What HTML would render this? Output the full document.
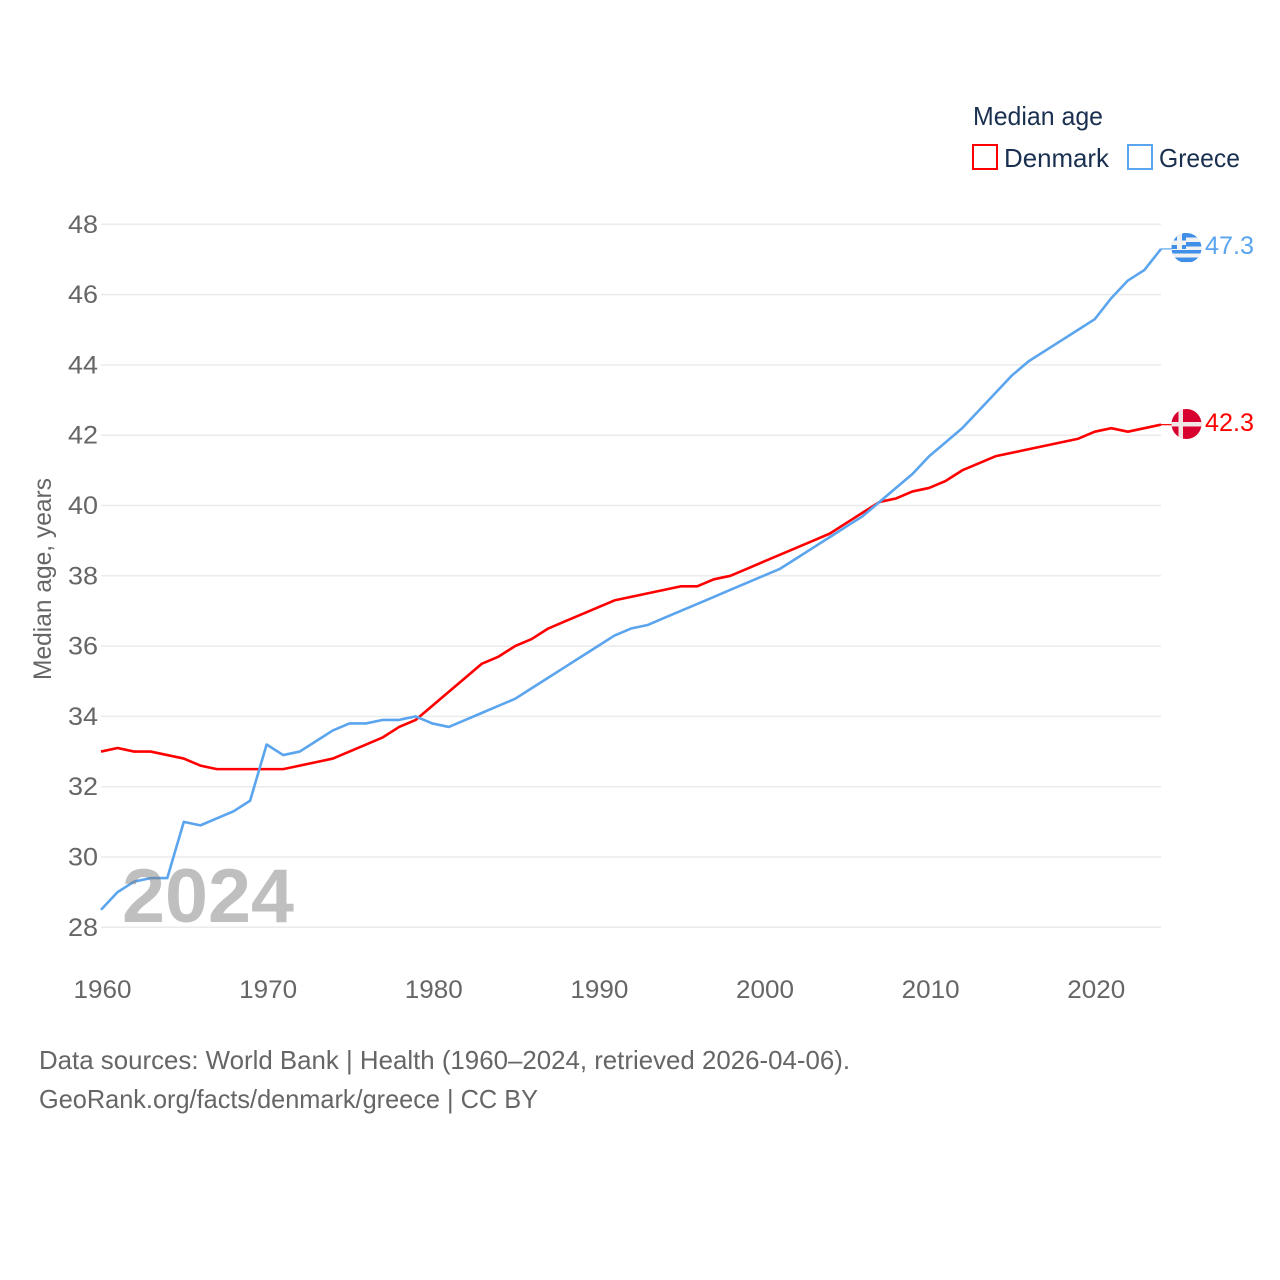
<!DOCTYPE html>
<html lang="en">
<head>
<meta charset="utf-8">
<title>Median age: Denmark vs Greece</title>
<style>
  html, body { margin: 0; padding: 0; background: #fff; }
  svg { display: block; font-family: "Liberation Sans", sans-serif; }
</style>
</head>
<body>
<svg id="chart" xmlns="http://www.w3.org/2000/svg" width="1280" height="1280" viewBox="0 0 1280 1280">
  <defs>
    <clipPath id="clip-gr"><circle cx="1186.5" cy="248" r="15"/></clipPath>
    <clipPath id="clip-dk"><circle cx="1186.5" cy="424" r="15"/></clipPath>
  </defs>
  <rect x="0" y="0" width="1280" height="1280" fill="#ffffff"/>
  <g id="grid"></g>
  <g id="y-labels"></g>
  <g id="x-labels"></g>
  <g id="lines"></g>

  <text x="122" y="922" font-size="76" font-weight="bold" fill="#7f7f7f" fill-opacity="0.5" textLength="172" lengthAdjust="spacingAndGlyphs">2024</text>

  <text transform="translate(51,680) rotate(-90)" font-size="25" fill="#666666" textLength="202" lengthAdjust="spacingAndGlyphs">Median age, years</text>

  <g>
    <text x="973" y="125" font-size="26" fill="#1a3050" textLength="130" lengthAdjust="spacingAndGlyphs">Median age</text>
    <rect x="973" y="145" width="24" height="24" fill="#ffffff" stroke="#ff0000" stroke-width="2"/>
    <text x="1004" y="167" font-size="26" fill="#1a3050" textLength="105" lengthAdjust="spacingAndGlyphs">Denmark</text>
    <rect x="1128" y="145" width="24" height="24" fill="#ffffff" stroke="#5ba4ee" stroke-width="2"/>
    <text x="1159" y="167" font-size="26" fill="#1a3050" textLength="81" lengthAdjust="spacingAndGlyphs">Greece</text>
  </g>

  <g clip-path="url(#clip-gr)">
    <rect x="1170" y="231" width="34" height="35" fill="#f1f1f1"/>
    <rect x="1170" y="233" width="34" height="4.5" fill="#3f8fe8"/>
    <rect x="1170" y="242" width="34" height="4.5" fill="#3f8fe8"/>
    <rect x="1170" y="250" width="34" height="3.5" fill="#3f8fe8"/>
    <rect x="1170" y="257.5" width="34" height="4.5" fill="#3f8fe8"/>
    <rect x="1170" y="231" width="16" height="18" fill="#3f8fe8"/>
    <rect x="1177" y="231" width="5" height="18" fill="#f1f1f1"/>
    <rect x="1170" y="240.5" width="16" height="4.5" fill="#f1f1f1"/>
  </g>
  <g clip-path="url(#clip-dk)">
    <rect x="1170" y="407" width="34" height="34" fill="#d7002f"/>
    <rect x="1178.5" y="407" width="4.5" height="34" fill="#f1e6e6"/>
    <rect x="1170" y="422" width="34" height="4.5" fill="#f1e6e6"/>
  </g>

  <text id="label-greece" x="1205" y="254" font-size="25" fill="#5ba4ee" textLength="49" lengthAdjust="spacingAndGlyphs"></text>
  <text id="label-denmark" x="1205" y="431" font-size="25" fill="#ff0000" textLength="49" lengthAdjust="spacingAndGlyphs"></text>

  <text x="39" y="1069" font-size="26" fill="#666666" textLength="811" lengthAdjust="spacingAndGlyphs">Data sources: World Bank | Health (1960–2024, retrieved 2026-04-06).</text>
  <text x="39" y="1108" font-size="26" fill="#666666" textLength="499" lengthAdjust="spacingAndGlyphs">GeoRank.org/facts/denmark/greece | CC BY</text>
</svg>
<script>
const startYear = 1960;
const denmarkValues = [33.0,33.1,33.0,33.0,32.9,32.8,32.6,32.5,32.5,32.5,32.5,32.5,32.6,32.7,32.8,33.0,33.2,33.4,33.7,33.9,34.3,34.7,35.1,35.5,35.7,36.0,36.2,36.5,36.7,36.9,37.1,37.3,37.4,37.5,37.6,37.7,37.7,37.9,38.0,38.2,38.4,38.6,38.8,39.0,39.2,39.5,39.8,40.1,40.2,40.4,40.5,40.7,41.0,41.2,41.4,41.5,41.6,41.7,41.8,41.9,42.1,42.2,42.1,42.2,42.3];
const greeceValues = [28.5,29.0,29.3,29.4,29.4,31.0,30.9,31.1,31.3,31.6,33.2,32.9,33.0,33.3,33.6,33.8,33.8,33.9,33.9,34.0,33.8,33.7,33.9,34.1,34.3,34.5,34.8,35.1,35.4,35.7,36.0,36.3,36.5,36.6,36.8,37.0,37.2,37.4,37.6,37.8,38.0,38.2,38.5,38.8,39.1,39.4,39.7,40.1,40.5,40.9,41.4,41.8,42.2,42.7,43.2,43.7,44.1,44.4,44.7,45.0,45.3,45.9,46.4,46.7,47.3];
const yTicks = [28,30,32,34,36,38,40,42,44,46,48];
const xTicks = [1960,1970,1980,1990,2000,2010,2020];

const NS = 'http://www.w3.org/2000/svg';
function xScale(year) { return 101 + (year - 1960) * (1161 - 101) / 64; }
function yScale(v) { return 927.3 - (v - 28) * (927.3 - 224.3) / 20; }
function make(tag, attrs) {
  const el = document.createElementNS(NS, tag);
  for (const k in attrs) el.setAttribute(k, attrs[k]);
  return el;
}

const grid = document.getElementById('grid');
const yLabels = document.getElementById('y-labels');
yTicks.forEach(function (t) {
  const line = make('line', { x1: 101, x2: 1161, y1: yScale(t), y2: yScale(t), stroke: '#ebebeb', 'stroke-width': 1.5 });
  
  
  grid.appendChild(line);
  const label = make('text', { x: 98, y: yScale(t) + 8.5, 'text-anchor': 'end', 'font-size': 25, fill: '#666666', textLength: 30, lengthAdjust: 'spacingAndGlyphs' });
  
  
  label.textContent = t;
  yLabels.appendChild(label);
});

const xLabels = document.getElementById('x-labels');
xTicks.forEach(function (t) {
  const label = make('text', { x: xScale(t) + 1.5, y: 998, 'text-anchor': 'middle', 'font-size': 25, fill: '#666666', textLength: 58, lengthAdjust: 'spacingAndGlyphs' });
  
  
  label.textContent = t;
  xLabels.appendChild(label);
});

function pathFor(values) {
  return values.map(function (v, i) {
    return (i ? 'L' : 'M') + xScale(startYear + i).toFixed(2) + ' ' + yScale(v).toFixed(2);
  }).join(' ');
}
const lines = document.getElementById('lines');

const greeceLine = make('path', { d: pathFor(greeceValues), fill: 'none', stroke: '#5ba4ee', 'stroke-width': 2.6, 'stroke-linejoin': 'round' });


const denmarkLine = make('path', { d: pathFor(denmarkValues), fill: 'none', stroke: '#ff0000', 'stroke-width': 2.6, 'stroke-linejoin': 'round' });


lines.appendChild(denmarkLine);
lines.appendChild(greeceLine);

const lastGreece = greeceValues[greeceValues.length - 1];
const lastDenmark = denmarkValues[denmarkValues.length - 1];
const connectorGreece = make('line', { x1: 1161, x2: 1172, y1: yScale(lastGreece), y2: yScale(lastGreece), stroke: '#5ba4ee', 'stroke-width': 1.2 });


lines.appendChild(connectorGreece);
const connectorDenmark = make('line', { x1: 1161, x2: 1172, y1: yScale(lastDenmark), y2: yScale(lastDenmark), stroke: '#ff0000', 'stroke-width': 1.2 });


lines.appendChild(connectorDenmark);

document.getElementById('label-greece').textContent = lastGreece.toFixed(1);
document.getElementById('label-denmark').textContent = lastDenmark.toFixed(1);
</script>
</body>
</html>
